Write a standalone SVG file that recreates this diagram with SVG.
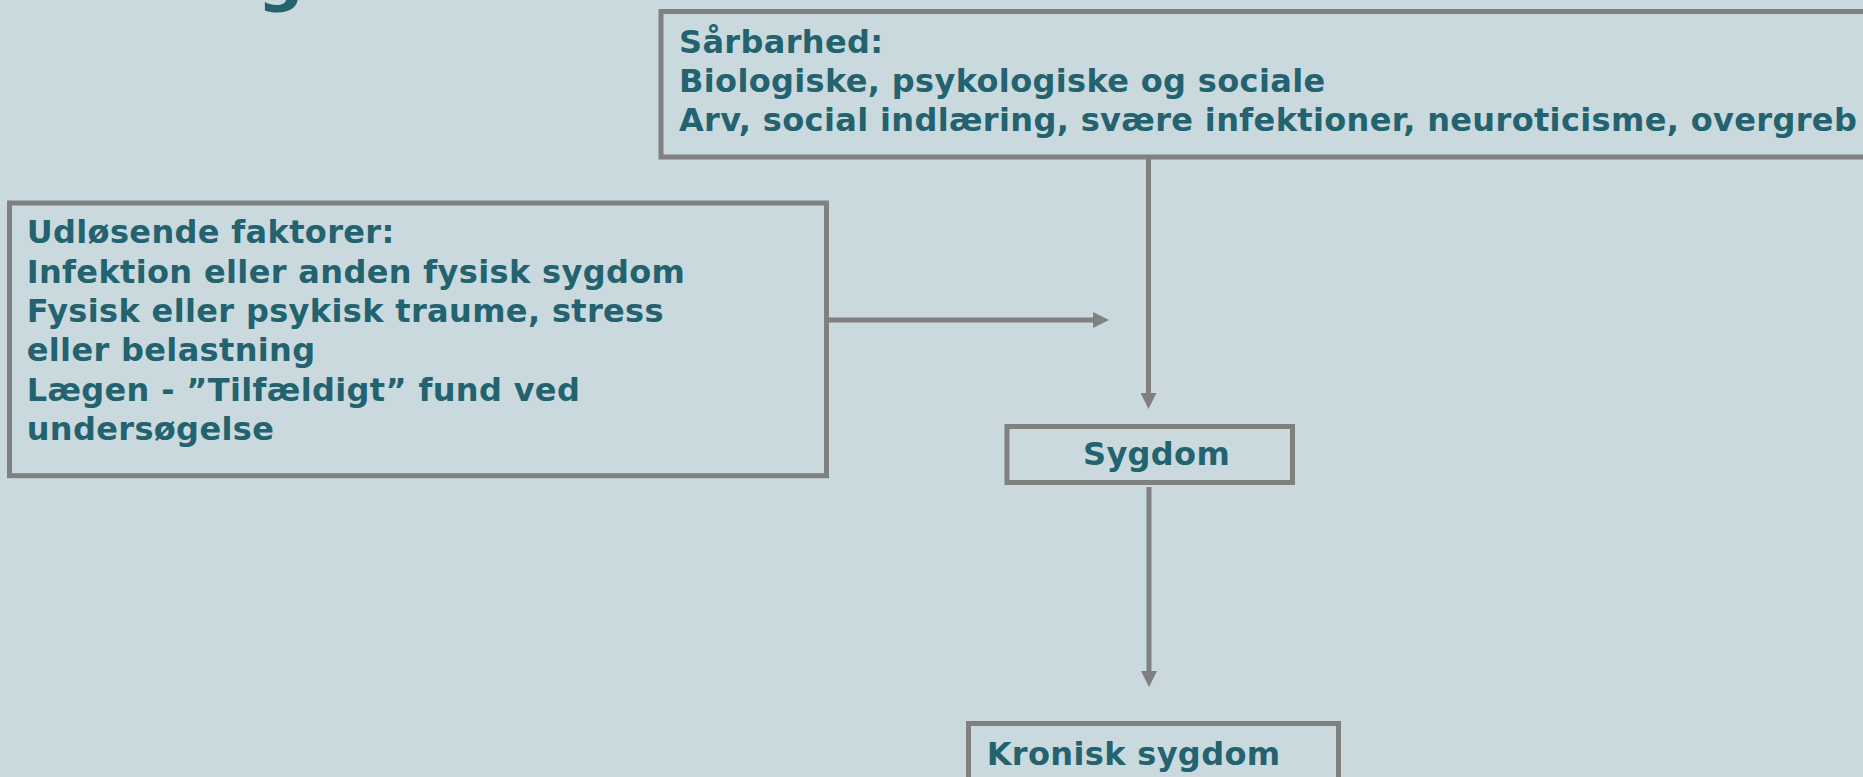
<svg xmlns="http://www.w3.org/2000/svg" width="1863" height="777" viewBox="0 0 1863 777">
  <defs>
    <style>
      .bg { fill: #C9D9DE; }
      .box { fill: #C9D9DE; stroke: #808080; stroke-width: 5; }
      .txt { font-family: "DejaVu Sans", Verdana, sans-serif; font-weight: bold; font-size: 32px; fill: #23626F; letter-spacing: 0.35px; }
      .title { font-family: "DejaVu Sans", Verdana, sans-serif; font-weight: bold; font-size: 64px; fill: #23626F; }
      .conn { stroke: #808080; stroke-width: 5; fill: none; }
    </style>
    <marker id="arrow" markerUnits="userSpaceOnUse" markerWidth="16" markerHeight="16" refX="2" refY="8" orient="auto" viewBox="0 0 16 16">
      <path d="M0,0 L16,8 L0,16 z" fill="#808080"/>
    </marker>
  </defs>
  <rect class="bg" x="0" y="0" width="1863" height="777"/>

  <g id="title">
    <text class="title" x="26" y="-1">Ætiologi</text>
  </g>

  <g id="node-saarbarhed">
    <rect class="box" x="661" y="11.5" width="1300" height="145.5"/>
    <text class="txt" x="679" y="53.3">Sårbarhed:</text>
    <text class="txt" x="679" y="92">Biologiske, psykologiske og sociale</text>
    <text class="txt" x="679" y="130.7">Arv, social indlæring, svære infektioner, neuroticisme, overgreb</text>
  </g>

  <g id="node-udloesende">
    <rect class="box" x="9.5" y="203" width="817" height="272.7"/>
    <text class="txt" x="26.7" y="243.3">Udløsende faktorer:</text>
    <text class="txt" x="26.7" y="282.6">Infektion eller anden fysisk sygdom</text>
    <text class="txt" x="26.7" y="321.9">Fysisk eller psykisk traume, stress</text>
    <text class="txt" x="26.7" y="361.2">eller belastning</text>
    <text class="txt" x="26.7" y="400.5">Lægen - ”Tilfældigt” fund ved</text>
    <text class="txt" x="26.7" y="439.8">undersøgelse</text>
  </g>

  <g id="node-sygdom">
    <rect class="box" x="1007" y="426.5" width="285.5" height="56"/>
    <text class="txt" x="1083" y="465">Sygdom</text>
  </g>

  <g id="node-kronisk">
    <rect class="box" x="968.5" y="723.5" width="370" height="100"/>
    <text class="txt" x="986.7" y="765">Kronisk sygdom</text>
  </g>

  <g id="connectors">
    <line class="conn" x1="1148.5" y1="159" x2="1148.5" y2="395" marker-end="url(#arrow)"/>
    <line class="conn" x1="829" y1="320" x2="1095" y2="320" marker-end="url(#arrow)"/>
    <line class="conn" x1="1149" y1="487" x2="1149" y2="673" marker-end="url(#arrow)"/>
  </g>
</svg>
